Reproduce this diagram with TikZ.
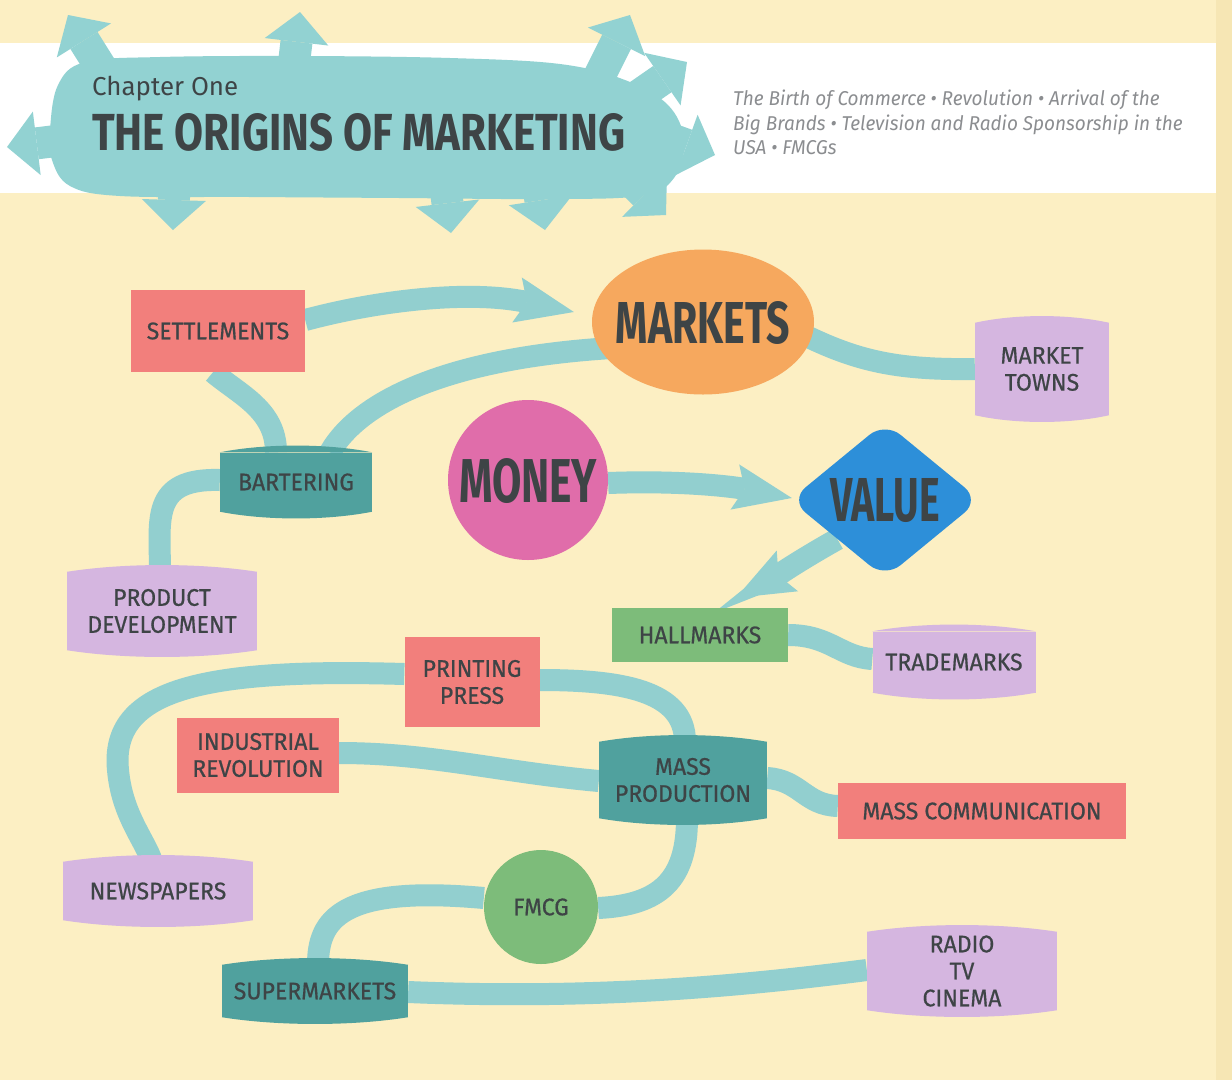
\documentclass[tikz,border=0pt]{standalone}
\usepackage{fontspec}
\setmainfont{Fira Sans}
\newfontfamily\lblfont[FakeStretch=0.96,FakeBold=0.6]{Fira Sans}
\newfontfamily\hdfont{Fira Sans}
\newfontfamily\subfont[FakeStretch=0.95]{Fira Sans}
\usetikzlibrary{shapes.geometric,arrows.meta,calc}
\definecolor{bgc}{HTML}{FCEFC3}
\definecolor{edgec}{HTML}{F6E6B4}
\definecolor{hdc}{HTML}{92D2D2}
\definecolor{bandc}{HTML}{92CFCF}
\definecolor{redc}{HTML}{F27F7C}
\definecolor{orangec}{HTML}{F6A85E}
\definecolor{lilacc}{HTML}{D5B6E0}
\definecolor{tealc}{HTML}{50A19E}
\definecolor{pinkc}{HTML}{E06DAA}
\definecolor{bluec}{HTML}{2D8FD9}
\definecolor{greenc}{HTML}{7DBC7A}
\definecolor{textc}{HTML}{3E4446}
\definecolor{subgray}{HTML}{8B8D90}
\pgfdeclarelayer{bottom}
\pgfdeclarelayer{background}
\pgfsetlayers{bottom,background,main}
\tikzset{
  lbl/.style={font=\lblfont\fontsize{24}{27}\selectfont, text=textc, align=center, inner sep=0pt},
  boxc/.style={lbl, rectangle, fill=#1},
  band/.style={draw=bandc, line width=22pt},
  bigtip/.style={-{Stealth[length=58pt,width=46pt,inset=10pt,line width=0pt]}},
  hdarrow/.style={draw=hdc, line width=32pt, -{Triangle[length=30pt,width=64pt,line width=0pt]}},
}
\newcommand\mybulge[2]{%
  \fill[#2] (#1.north west) .. controls ($(#1.north west)!0.3!(#1.north east)+(0,-9)$) and ($(#1.north west)!0.7!(#1.north east)+(0,-9)$) .. (#1.north east) -- cycle;
  \fill[#2] (#1.south west) .. controls ($(#1.south west)!0.3!(#1.south east)+(0,9)$) and ($(#1.south west)!0.7!(#1.south east)+(0,9)$) .. (#1.south east) -- cycle;}
\newcommand\bigword[3]{\smash{\makebox[0pt]{\raisebox{-0.5\height}{\resizebox{#1}{#2}{\hdfont\bfseries #3}}}}}
\begin{document}
\begin{tikzpicture}[x=1pt,y=-1pt]
\useasboundingbox (0,0) rectangle (1232,1080);
\begin{pgfonlayer}{bottom}
\fill[bgc] (0,0) rectangle (1232,1080);
\fill[white] (0,43) rectangle (1216,193);
\fill[edgec] (1216,0) rectangle (1232,1080);
% header blob
\fill[hdc] plot[smooth cycle, tension=0.6] coordinates {(50,130) (58,85) (85,62) (160,57) (300,56) (450,58) (560,64) (625,80) (668,105) (684,140) (674,178) (640,196) (540,199) (400,198) (250,197) (120,196) (70,186) (52,160)};
\draw[hdarrow] (115,90) -- (68,15);
\draw[hdarrow] (292,80) -- (300,12);
\draw[hdarrow] (590,95) -- (630,15);
\draw[hdarrow] (625,105) -- (687,62);
\draw[hdarrow] (640,128) -- (715,155);
\draw[hdarrow] (615,165) -- (666,215);
\draw[hdarrow] (535,165) -- (545,230);
\draw[hdarrow] (443,165) -- (451,233);
\draw[hdarrow] (175,165) -- (173,230);
\draw[hdarrow] (80,138) -- (7,147);
\end{pgfonlayer}
% header text
\node[anchor=base west, inner sep=0pt, text=textc] (chap) at (92,95) {\resizebox{146pt}{!}{\hdfont Chapter One}};
\node[anchor=base west, inner sep=0pt, text=textc] (title) at (92,150) {\resizebox{533pt}{37pt}{\hdfont\bfseries THE ORIGINS OF MARKETING}};
\node[anchor=north west, inner sep=0pt, align=left, text=subgray, font=\subfont\itshape\fontsize{20}{24.5}\selectfont] (sub) at (733,90)
  {The Birth of Commerce • Revolution • Arrival of the\\Big Brands • Television and Radio Sponsorship in the\\USA • FMCGs};
% nodes
\node[boxc=redc, minimum width=174pt, minimum height=82pt] (settle) at (218,331) {SETTLEMENTS};
\node[lbl, ellipse, fill=orangec, minimum width=222pt, minimum height=145pt] (markets) at (703,322) {\bigword{174pt}{42pt}{MARKETS}};
\node[boxc=lilacc, minimum width=134pt, minimum height=92pt] (mtowns) at (1042,369) {MARKET\\TOWNS};
\node[boxc=tealc, minimum width=152pt, minimum height=59pt] (barter) at (296,482) {BARTERING};
\node[boxc=lilacc, minimum width=190pt, minimum height=78pt] (prodev) at (162,611) {PRODUCT\\DEVELOPMENT};
\node[lbl, circle, fill=pinkc, minimum size=160pt] (money) at (528,480) {\bigword{138pt}{44pt}{MONEY}};
\node[lbl, diamond, fill=bluec, minimum width=190pt, minimum height=156pt, rounded corners=20pt] (value) at (885,500) {\bigword{110pt}{43pt}{VALUE}};
\node[boxc=greenc, minimum width=176pt, minimum height=54pt] (hall) at (700,635) {HALLMARKS};
\node[boxc=lilacc, minimum width=163pt, minimum height=61pt] (trade) at (954,662) {TRADEMARKS};
\node[boxc=redc, minimum width=135pt, minimum height=90pt] (press) at (472,682) {PRINTING\\PRESS};
\node[boxc=redc, minimum width=162pt, minimum height=75pt] (indrev) at (258,755) {INDUSTRIAL\\REVOLUTION};
\node[boxc=tealc, minimum width=168pt, minimum height=76pt] (massprod) at (683,780) {MASS\\PRODUCTION};
\node[boxc=redc, minimum width=288pt, minimum height=56pt] (masscom) at (982,811) {MASS COMMUNICATION};
\node[boxc=lilacc, minimum width=190pt, minimum height=58pt] (news) at (158,891) {NEWSPAPERS};
\node[lbl, circle, fill=greenc, minimum size=114pt] (fmcg) at (541,907) {FMCG};
\node[boxc=tealc, minimum width=186pt, minimum height=52pt] (super) at (315,991) {SUPERMARKETS};
\node[boxc=lilacc, minimum width=190pt, minimum height=78pt] (radio) at (962,971) {RADIO\\TV\\CINEMA};
% bulges of barrel boxes
\mybulge{mtowns}{lilacc}
\mybulge{barter}{tealc}
\mybulge{prodev}{lilacc}
\mybulge{trade}{lilacc}
\mybulge{massprod}{tealc}
\mybulge{news}{lilacc}
\mybulge{super}{tealc}
\mybulge{radio}{lilacc}
% connectors
\begin{pgfonlayer}{background}
\draw[band, bigtip] ($(settle.east)+(0,-11)$) .. controls (380,300) and (470,290) .. ($(markets.west)+(-18,-10)$);
\draw[band] ($(settle.south)+(-5,0)$) .. controls (240,395) and (276,410) .. ($(barter.north)+(-20,0)$);
\draw[band] ($(barter.north)+(34,0)$) .. controls (360,400) and (450,358) .. ($(markets.west)+(20,26)$);
\draw[band] ($(barter.west)+(0,-2)$) .. controls (150,478) and (160,520) .. ($(prodev.north)+(-2,0)$);
\draw[band] ($(markets.east)+(-8,14)$) .. controls (860,362) and (900,370) .. (mtowns.west);
\draw[band, bigtip] ($(money.east)+(0,3)$) .. controls (690,480) and (740,488) .. ($(value.west)+(2,-2)$);
\draw[band, bigtip] (value.south west) .. controls (800,560) and (770,580) .. ($(hall.north)+(36,-10)$);
\draw[band] (hall.east) .. controls (830,635) and (840,657) .. ($(trade.west)+(0,-3)$);
\draw[band] ($(press.west)+(0,-8)$) .. controls (200,668) and (110,690) .. (118,770) .. controls (122,815) and (145,840) .. ($(news.north)+(-6,0)$);
\draw[band] ($(press.east)+(0,-2)$) .. controls (620,680) and (685,690) .. ($(massprod.north)+(2,0)$);
\draw[band] ($(indrev.east)+(0,-2)$) .. controls (430,753) and (500,772) .. ($(massprod.west)+(0,1)$);
\draw[band] ($(massprod.east)+(0,-2)$) .. controls (800,780) and (805,805) .. ($(masscom.west)+(0,-5)$);
\draw[band] ($(massprod.south)+(4,0)$) .. controls (687,880) and (660,905) .. ($(fmcg.east)+(0,1)$);
\draw[band] ($(fmcg.west)+(0,-9)$) .. controls (340,885) and (318,920) .. ($(super.north)+(3,0)$);
\draw[band] ($(super.east)+(0,1)$) .. controls (600,1000) and (750,985) .. ($(radio.west)+(0,-1)$);
\end{pgfonlayer}
\end{tikzpicture}
\end{document}
